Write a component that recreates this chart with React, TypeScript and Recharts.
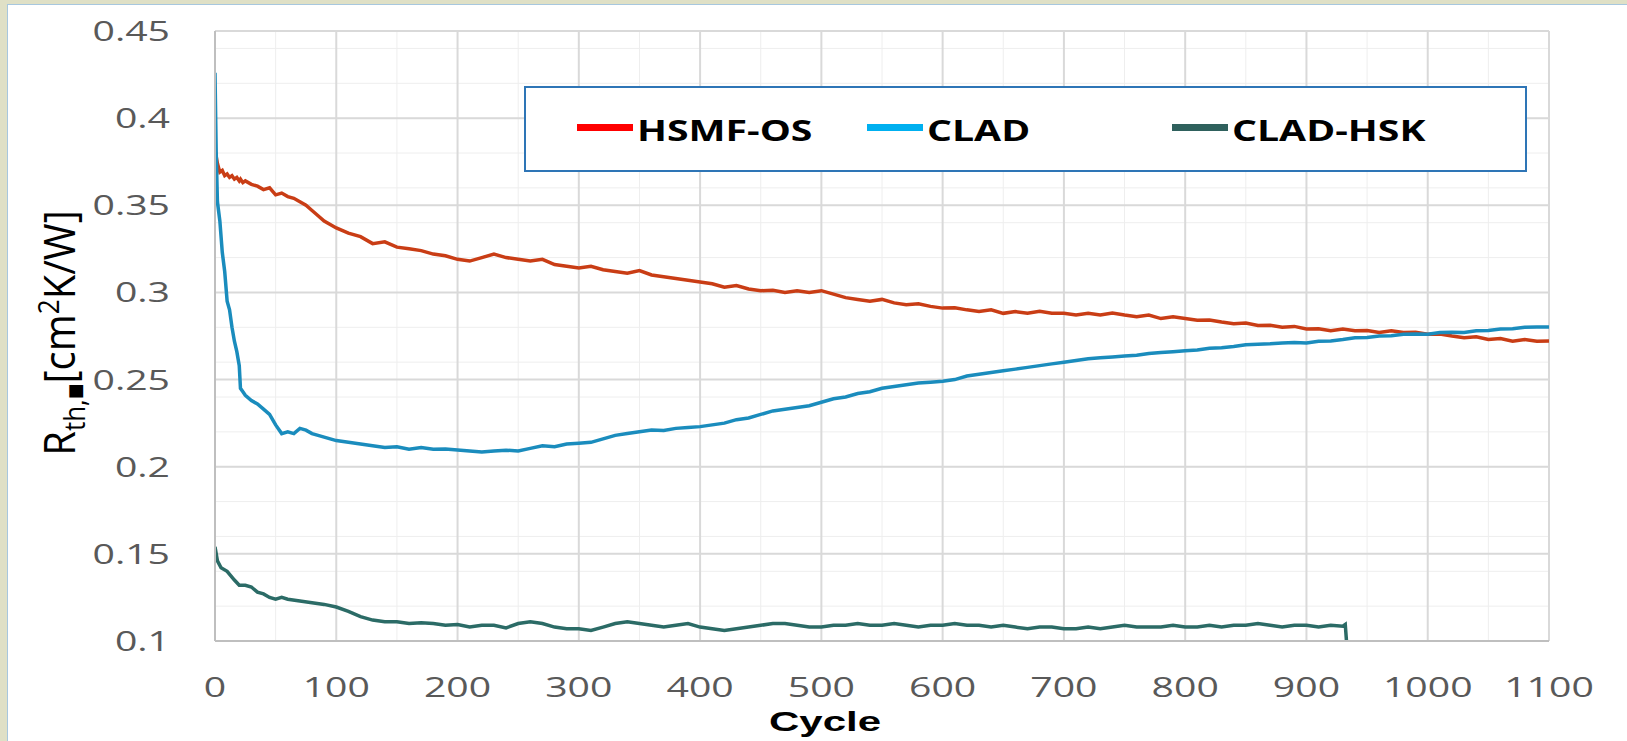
import React from 'react';
import { LineChart, Line, XAxis, YAxis, CartesianGrid, Legend } from 'recharts';

// cycle positions shared by HSMF-OS and CLAD
const cycles = [
  0, 1, 2, 4, 6, 8, 10, 12, 14, 16, 18, 20, 21, 23, 25,
  30, 35, 40, 45, 50, 55, 60, 65, 70, 75, 80, 85, 90, 95, 100,
  110, 120, 130, 140, 150, 160, 170, 180, 190, 200,
  210, 220, 230, 240, 250, 260, 270, 280, 290, 300,
  310, 320, 330, 340, 350, 360, 370, 380, 390, 400,
  410, 420, 430, 440, 450, 460, 470, 480, 490, 500,
  510, 520, 530, 540, 550, 560, 570, 580, 590, 600,
  610, 620, 630, 640, 650, 660, 670, 680, 690, 700,
  710, 720, 730, 740, 750, 760, 770, 780, 790, 800,
  810, 820, 830, 840, 850, 860, 870, 880, 890, 900,
  910, 920, 930, 940, 950, 960, 970, 980, 990, 1000,
  1010, 1020, 1030, 1040, 1050, 1060, 1070, 1080, 1090, 1100,
];

const hsmfOs = [
  0.382, 0.378, 0.374, 0.369, 0.37, 0.367, 0.368, 0.366, 0.367, 0.365, 0.366, 0.364, 0.365, 0.363, 0.364,
  0.362, 0.361, 0.359, 0.36, 0.356, 0.357, 0.355, 0.354, 0.352, 0.35, 0.347, 0.344, 0.341, 0.339, 0.337,
  0.334, 0.332, 0.328, 0.329, 0.326, 0.325, 0.324, 0.322, 0.321, 0.319,
  0.318, 0.32, 0.322, 0.32, 0.319, 0.318, 0.319, 0.316, 0.315, 0.314,
  0.315, 0.313, 0.312, 0.311, 0.3125, 0.31, 0.309, 0.308, 0.307, 0.306,
  0.305, 0.303, 0.304, 0.302, 0.301, 0.3012, 0.3, 0.301, 0.3, 0.301,
  0.299, 0.297, 0.296, 0.295, 0.296, 0.294, 0.293, 0.2935, 0.292, 0.291,
  0.2912, 0.29, 0.289, 0.29, 0.288, 0.289, 0.288, 0.2892, 0.288, 0.288,
  0.287, 0.288, 0.287, 0.2882, 0.287, 0.286, 0.287, 0.285, 0.286, 0.285,
  0.284, 0.2842, 0.283, 0.282, 0.2825, 0.281, 0.2812, 0.28, 0.2805, 0.279,
  0.2792, 0.278, 0.279, 0.278, 0.2782, 0.277, 0.278, 0.277, 0.2772, 0.276,
  0.2762, 0.275, 0.274, 0.2745, 0.273, 0.2735, 0.272, 0.273, 0.272, 0.2722,
];

const clad = [
  0.426, 0.38, 0.352, 0.341, 0.323, 0.312, 0.295, 0.29, 0.28, 0.272, 0.266, 0.258, 0.245, 0.243, 0.241,
  0.238, 0.236, 0.233, 0.23, 0.224, 0.219, 0.22, 0.219, 0.222, 0.221, 0.219, 0.218, 0.217, 0.216, 0.215,
  0.214, 0.213, 0.212, 0.211, 0.2115, 0.21, 0.211, 0.21, 0.2102, 0.2096,
  0.209, 0.2085, 0.209, 0.2095, 0.209, 0.2105, 0.212, 0.2115, 0.213, 0.2135,
  0.214, 0.216, 0.218, 0.219, 0.22, 0.221, 0.2208, 0.222, 0.2225, 0.223,
  0.224, 0.225, 0.227, 0.228, 0.23, 0.232, 0.233, 0.234, 0.235, 0.237,
  0.239, 0.24, 0.242, 0.243, 0.245, 0.246, 0.247, 0.248, 0.2485, 0.249,
  0.25, 0.252, 0.253, 0.254, 0.255, 0.256, 0.257, 0.258, 0.259, 0.26,
  0.261, 0.262, 0.2625, 0.263, 0.2635, 0.264, 0.265, 0.2655, 0.266, 0.2665,
  0.267, 0.268, 0.2682, 0.269, 0.27, 0.2702, 0.2705, 0.271, 0.2712, 0.271,
  0.272, 0.2722, 0.273, 0.274, 0.2742, 0.275, 0.2752, 0.276, 0.2762, 0.276,
  0.277, 0.2772, 0.277, 0.278, 0.2782, 0.279, 0.2792, 0.28, 0.2802, 0.2802,
];

// CLAD-HSK ends near cycle 933
const hskCycles = [
  0, 2, 5, 10, 16, 20, 25, 30, 35, 40, 45, 50, 55, 60,
  70, 80, 90, 100, 110, 120, 130, 140, 150, 160, 170, 180, 190, 200,
  210, 220, 230, 240, 250, 260, 270, 280, 290, 300,
  310, 320, 330, 340, 350, 360, 370, 380, 390, 400,
  410, 420, 430, 440, 450, 460, 470, 480, 490, 500,
  510, 520, 530, 540, 550, 560, 570, 580, 590, 600,
  610, 620, 630, 640, 650, 660, 670, 680, 690, 700,
  710, 720, 730, 740, 750, 760, 770, 780, 790, 800,
  810, 820, 830, 840, 850, 860, 870, 880, 890, 900,
  910, 920, 930, 932, 933,
];

const cladHsk = [
  0.154, 0.146, 0.142, 0.14, 0.135, 0.132, 0.132, 0.131, 0.128, 0.127, 0.125, 0.124, 0.125, 0.124,
  0.123, 0.122, 0.121, 0.1195, 0.117, 0.114, 0.112, 0.111, 0.111, 0.11, 0.1105, 0.11, 0.109, 0.1095,
  0.108, 0.109, 0.109, 0.1075, 0.11, 0.111, 0.11, 0.108, 0.107, 0.107,
  0.106, 0.108, 0.11, 0.111, 0.11, 0.109, 0.108, 0.109, 0.11, 0.108,
  0.107, 0.106, 0.107, 0.108, 0.109, 0.11, 0.11, 0.109, 0.108, 0.108,
  0.109, 0.109, 0.11, 0.109, 0.109, 0.11, 0.109, 0.108, 0.109, 0.109,
  0.11, 0.109, 0.109, 0.108, 0.109, 0.108, 0.107, 0.108, 0.108, 0.107,
  0.107, 0.108, 0.107, 0.108, 0.109, 0.108, 0.108, 0.108, 0.109, 0.108,
  0.108, 0.109, 0.108, 0.109, 0.109, 0.11, 0.109, 0.108, 0.109, 0.109,
  0.108, 0.109, 0.1085, 0.1095, 0.1,
];

const xTicks = [0, 100, 200, 300, 400, 500, 600, 700, 800, 900, 1000, 1100];
const yTicks = [0.1, 0.15, 0.2, 0.25, 0.3, 0.35, 0.4, 0.45];

const minorX: number[] = [];
for (let v = 50; v < 1100; v += 100) minorX.push(v);
const minorY: number[] = [];
for (let i = 11; i < 45; i++) minorY.push(i / 100);

const redData = cycles.map((c, i) => ({ x: c, y: hsmfOs[i] }));
const blueData = cycles.map((c, i) => ({ x: c, y: clad[i] }));
const greenData = hskCycles.map((c, i) => ({ x: c, y: cladHsk[i] }));

const legendItems = [
  { name: 'HSMF-OS', color: '#ff0000', left: 53 },
  { name: 'CLAD', color: '#00b0f0', left: 343 },
  { name: 'CLAD-HSK', color: '#2f615d', left: 648 },
];

const XTick = ({ x, y, payload }: any) => (
  <text
    transform={`translate(${x},${y + 56}) scale(1.4,1)`}
    textAnchor="middle"
    fill="#595959"
    fontSize={28}
  >
    {payload.value}
  </text>
);

const YTick = ({ x, y, payload }: any) => (
  <text
    transform={`translate(${x - 45},${y + 10}) scale(1.4,1)`}
    textAnchor="end"
    fill="#595959"
    fontSize={28}
  >
    {payload.value}
  </text>
);

const renderLegend = () => (
  <div
    style={{
      position: 'relative',
      width: 1003,
      height: 86,
      boxSizing: 'border-box',
      border: '2px solid #2e75b6',
      background: '#fff',
    }}
  >
    {legendItems.map((it) => (
      <div key={it.name}>
        <div
          style={{
            position: 'absolute',
            left: it.left - 2,
            top: 36,
            width: 56,
            height: 7,
            background: it.color,
          }}
        />
        <div
          style={{
            position: 'absolute',
            left: it.left + 58,
            top: 22,
            fontSize: 28,
            lineHeight: '40px',
            fontWeight: 700,
            color: '#000',
            whiteSpace: 'nowrap',
            transform: 'scaleX(1.4)',
            transformOrigin: 'left center',
          }}
        >
          {it.name}
        </div>
      </div>
    ))}
  </div>
);

export default function App() {
  return (
    <div
      style={{
        position: 'fixed',
        left: 0,
        top: 0,
        width: 1627,
        height: 741,
        background: '#dfe0c6',
        fontFamily: '"Open Sans", sans-serif',
        overflow: 'hidden',
      }}
    >
      <div
        style={{
          position: 'absolute',
          left: 7,
          top: 4,
          width: 1620,
          height: 737,
          background: '#fff',
          borderTop: '1px solid #a7c7de',
          borderLeft: '1px solid #a7c7de',
        }}
      >
        <LineChart width={1619} height={736} margin={{ top: 26, right: 78, left: 0, bottom: 0 }}>
          <CartesianGrid
            stroke="#eeeeee"
            strokeWidth={1}
            horizontalValues={minorY}
            verticalValues={minorX}
          />
          <CartesianGrid
            stroke="#d9d9d9"
            strokeWidth={2}
            horizontalValues={yTicks}
            verticalValues={xTicks}
          />
          <XAxis
            dataKey="x"
            type="number"
            domain={[0, 1100]}
            ticks={xTicks}
            height={100}
            tickSize={0}
            tickMargin={0}
            tick={<XTick />}
            axisLine={{ stroke: '#bfbfbf', strokeWidth: 2 }}
            tickLine={false}
            allowDataOverflow
          />
          <YAxis
            type="number"
            domain={[0.1, 0.45]}
            ticks={yTicks}
            width={207}
            tickSize={0}
            tickMargin={0}
            tick={<YTick />}
            axisLine={{ stroke: '#bfbfbf', strokeWidth: 2 }}
            tickLine={false}
            allowDataOverflow
          />
          <Legend
            verticalAlign="middle"
            content={renderLegend}
            wrapperStyle={{ position: 'absolute', left: 516, top: 81, width: 1003, height: 86 }}
          />
          <Line data={redData} dataKey="y" name="HSMF-OS" stroke="#c93d15" strokeWidth={3.5} dot={false} isAnimationActive={false} legendType="none" />
          <Line data={blueData} dataKey="y" name="CLAD" stroke="#1a8cbd" strokeWidth={3.5} dot={false} isAnimationActive={false} legendType="none" />
          <Line data={greenData} dataKey="y" name="CLAD-HSK" stroke="#2b6b66" strokeWidth={3.5} dot={false} isAnimationActive={false} legendType="none" />
        </LineChart>
        <svg
          width={200}
          height={736}
          style={{ position: 'absolute', left: 0, top: 0, pointerEvents: 'none' }}
        >
          <text
            transform="translate(67,328) scale(1.1,1) rotate(-90)"
            textAnchor="middle"
            fontSize={40}
            fill="#000"
          >
            R
            <tspan dy={9} fontSize={26}>th,■</tspan>
            <tspan dy={-9}>[cm</tspan>
            <tspan dy={-15} fontSize={26}>2</tspan>
            <tspan dy={15}>K/W]</tspan>
          </text>
        </svg>
        <div
          style={{
            position: 'absolute',
            left: 817,
            top: 701,
            transform: 'translateX(-50%) scaleX(1.5)',
            fontFamily: '"Liberation Sans", sans-serif',
            fontSize: 28,
            fontWeight: 700,
            lineHeight: '31px',
            color: '#000',
            whiteSpace: 'nowrap',
          }}
        >
          Cycle
        </div>
      </div>
    </div>
  );
}
